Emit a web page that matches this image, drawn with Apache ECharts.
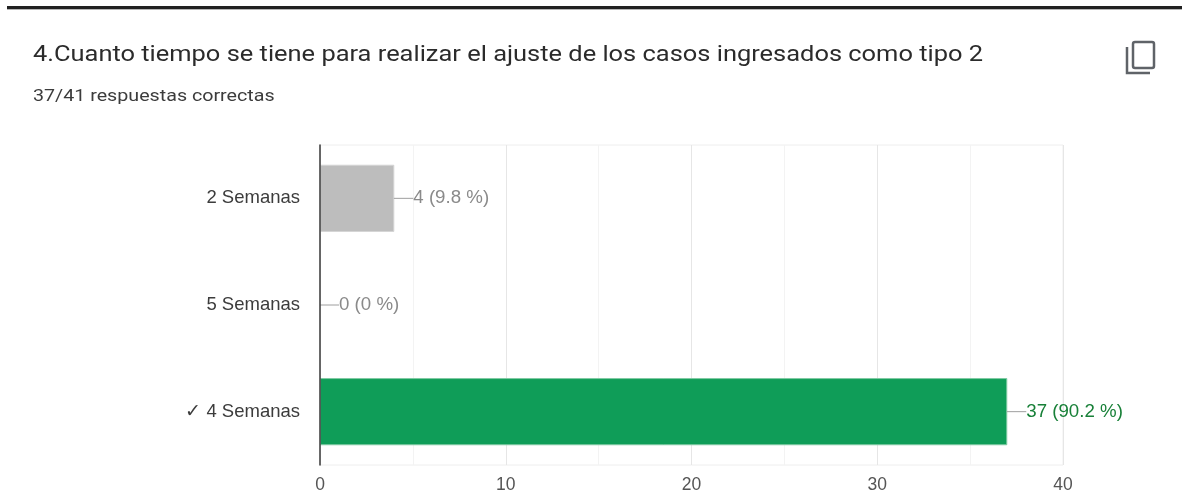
<!DOCTYPE html>
<html>
<head>
<meta charset="utf-8">
<style>
html, body { margin: 0; padding: 0; background: #fff; }
#main { width: 1182px; height: 495px; }
</style>
<script src="https://cdn.jsdelivr.net/npm/echarts@6/dist/echarts.min.js"></script>
</head>
<body>
<div id="main"></div>
<script>
var titleText = '4.Cuanto tiempo se tiene para realizar el ajuste de los casos ingresados como tipo 2';
var subtitleText = '37/41 respuestas correctas';
var categories = ['2 Semanas', '5 Semanas', '✓ 4 Semanas'];
var counts = [4, 0, 37];
var percents = ['9.8', '0', '90.2'];
var barColors = ['#bdbdbd', '#bdbdbd', '#0f9d58'];
var barBorders = ['#d4d4d4', '#d4d4d4', '#7fcaa3'];
var labelColors = ['#8a8a8a', '#8a8a8a', '#188038'];

var chart = echarts.init(document.getElementById('main'));

var option = {
    backgroundColor: '#fff',
    animation: false,
    grid: {
        left: 320,
        right: 119,
        top: 145,
        bottom: 30,
        show: true,
        borderColor: '#eeeeee',
        borderWidth: 1
    },
    xAxis: {
        type: 'value',
        min: 0,
        max: 40,
        interval: 10,
        axisLine: { show: false },
        axisTick: { show: false },
        axisLabel: { margin: 11, fontFamily: 'Liberation Sans', fontSize: 17.5, color: '#555555' },
        splitLine: { lineStyle: { color: '#e6e6e6', width: 1 } },
        minorTick: { show: false, splitNumber: 2 },
        minorSplitLine: { show: true, lineStyle: { color: '#f3f3f3', width: 1 } }
    },
    yAxis: {
        type: 'category',
        inverse: true,
        data: categories,
        z: 5,
        axisLine: { show: true, lineStyle: { color: '#3a3a3a', width: 1.5 } },
        axisTick: { show: false },
        axisLabel: { margin: 20, fontFamily: 'Liberation Sans', fontSize: 18.5, color: '#3c3c3c' }
    },
    series: [
        {
            type: 'bar',
            barWidth: '63%',
            data: counts.map(function (v, i) {
                return {
                    value: v,
                    itemStyle: {
                        color: barColors[i],
                        borderColor: barBorders[i],
                        borderWidth: v > 0 ? 1 : 0
                    },
                    label: {
                        formatter: v + ' (' + percents[i] + ' %)',
                        color: labelColors[i]
                    }
                };
            }),
            label: {
                show: true,
                position: 'right',
                distance: 2,
                fontFamily: 'Liberation Sans',
                fontSize: 18.7
            },
            labelLayout: { dx: 17 },
            labelLine: {
                show: true,
                showAbove: true,
                length2: 0,
                lineStyle: { color: '#9e9e9e', width: 1 }
            }
        }
    ],
    graphic: [
        // top rule
        { type: 'rect', shape: { x: 7, y: 6, width: 1175, height: 3 }, style: { fill: '#212121' } },
        { type: 'rect', shape: { x: 7, y: 9, width: 1175, height: 1 }, style: { fill: '#b5b5b5' } },
        // heading, the source is a little stretched sideways
        {
            type: 'text', x: 33, y: 55, scaleX: 1.13,
            style: { text: titleText, font: '22.5px Roboto', fill: '#2b2b2b', verticalAlign: 'middle' }
        },
        {
            type: 'text', x: 33, y: 97, scaleX: 1.2,
            style: { text: subtitleText, font: '16.4px Roboto', fill: '#3c3c3c', verticalAlign: 'middle' }
        },
        // copy icon
        { type: 'rect', shape: { x: 1133, y: 42, width: 21, height: 26, r: 2 }, style: { fill: 'none', stroke: '#5f6368', lineWidth: 2.5 } },
        { type: 'polyline', shape: { points: [[1127, 47], [1127, 73], [1150, 73]] }, style: { fill: 'none', stroke: '#5f6368', lineWidth: 2.5 } }
    ]
};

chart.setOption(option);
</script>
</body>
</html>
